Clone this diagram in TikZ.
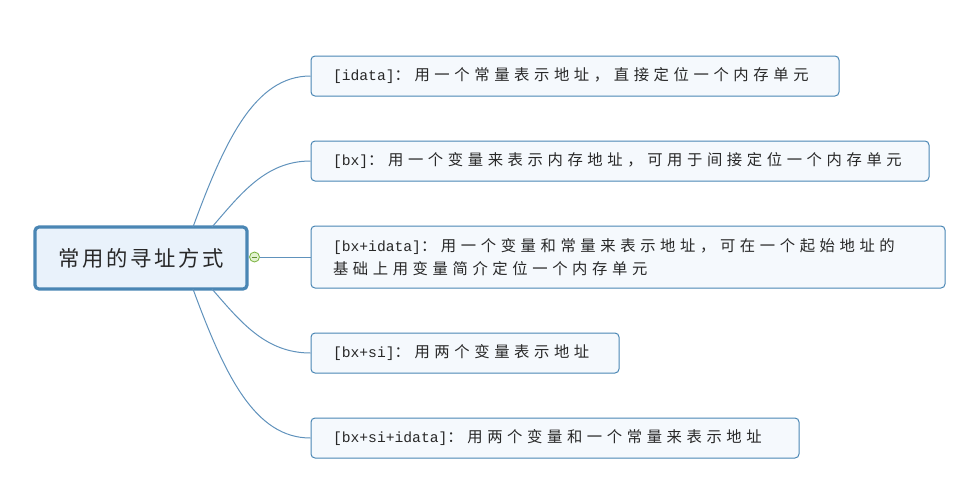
\documentclass[tikz,border=0pt]{standalone}
\usepackage{fontspec}
\newfontfamily\cjk[LetterSpace=30]{Noto Sans CJK SC}
\newfontfamily\cjkroot[LetterSpace=12]{Noto Sans CJK SC}
\newfontfamily\lat{Liberation Mono}
\definecolor{bordc}{RGB}{74,134,180}
\definecolor{linec}{RGB}{96,146,188}
\definecolor{rootfill}{RGB}{233,242,251}
\definecolor{kidfill}{RGB}{245,249,253}
\definecolor{txtc}{RGB}{40,40,40}
\definecolor{grc}{RGB}{122,178,62}
\definecolor{grfill}{RGB}{226,242,208}
\tikzset{
  rootbox/.style={draw=bordc, line width=2.4pt, fill=rootfill, rounded corners=3pt,
    minimum width=159pt, minimum height=46.5pt, inner sep=0pt, text=txtc,
    font=\cjkroot\fontsize{16pt}{19pt}\selectfont},
  kidbox/.style={draw=bordc, line width=0.75pt, fill=kidfill, rounded corners=3pt,
    inner xsep=16.5pt, inner ysep=0pt, minimum height=30pt, align=left, text=txtc,
    font=\cjk\fontsize{11.5pt}{17.25pt}\selectfont},
  latin/.style={},
  conn/.style={draw=linec, line width=0.75pt},
  knob/.style={circle, draw=grc, fill=grfill, line width=0.6pt, minimum size=7.5pt, inner sep=0pt}
}
\newcommand{\lt}[1]{{\lat\fontsize{11pt}{13pt}\selectfont #1}}
\begin{document}
\begin{tikzpicture}[x=0.75pt,y=-0.75pt]
\useasboundingbox (0,0) rectangle (963,501);
\node[rootbox] (root) at (141,258) {常用的寻址方式};
\node[kidbox, text width=363pt] (c1) at (575,76) {\lt{[idata]}：用一个常量表示地址，直接定位一个内存单元};
\node[kidbox, text width=430.5pt] (c2) at (620,161) {\lt{[bx]}：用一个变量来表示内存地址，可用于间接定位一个内存单元};
\node[kidbox, text width=442.5pt, minimum height=46.5pt] (c3) at (628,257) {\lt{[bx+idata]}：用一个变量和常量来表示地址，可在一个起始地址的\\基础上用变量简介定位一个内存单元};
\node[kidbox, text width=198pt] (c4) at (465,353) {\lt{[bx+si]}：用两个变量表示地址};
\node[kidbox, text width=333pt] (c5) at (555,438) {\lt{[bx+si+idata]}：用两个变量和一个常量来表示地址};
\coordinate (r1) at (193,227);
\coordinate (r2) at (212,227);
\coordinate (r4) at (212,289);
\coordinate (r5) at (193,289);
\path[conn] (r1) .. controls (225,140) and (255,76) .. (c1.west);
\path[conn] (r2) .. controls (240,195) and (265,161) .. (c2.west);
\path[conn] (r4) .. controls (240,321) and (265,353) .. (c4.west);
\path[conn] (r5) .. controls (225,376) and (255,438) .. (c5.west);
\node[knob] (k) at (254.5,257) {};
\draw[grc!80!black, line width=0.6pt] ([xshift=-2pt]k.center) -- ([xshift=2pt]k.center);
\path[conn] (k.east) -- (c3.west);
\end{tikzpicture}
\end{document}
